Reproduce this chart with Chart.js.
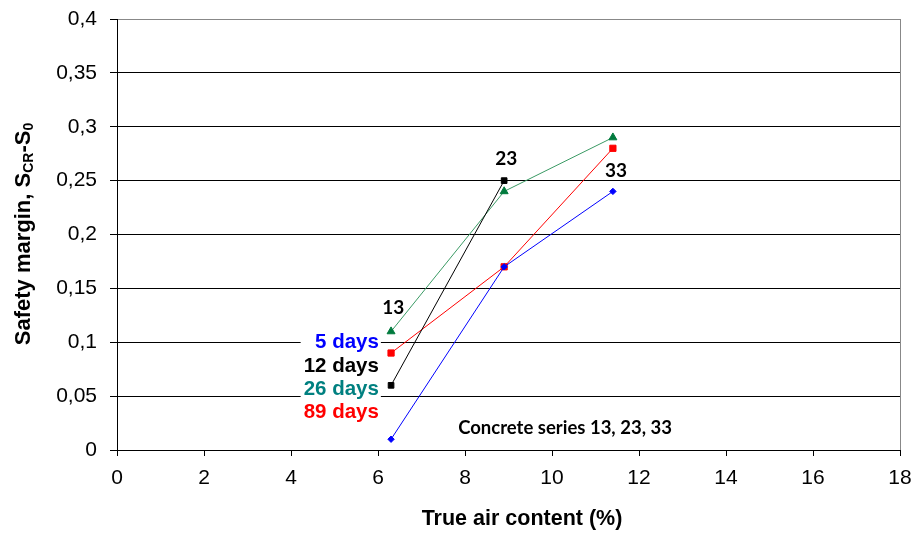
<!DOCTYPE html>
<html>
<head>
<meta charset="utf-8">
<script src="https://cdn.jsdelivr.net/npm/chart.js@4.4.0/dist/chart.umd.min.js"></script>
<style>
  html, body { margin: 0; padding: 0; background: #fff; }
  #wrap { width: 916px; height: 537px; }
</style>
</head>
<body>
<div id="wrap"><canvas id="chart" width="916" height="537"></canvas></div>
<script>
// True air content (%) of concrete series 13, 23, 33
const airContent = [6.3, 8.9, 11.4];

// Safety margin S_CR - S_0 for each age
const days5 = [0.01, 0.17, 0.24];
const days12 = [0.06, 0.25];
const days26 = [0.11, 0.24, 0.29];
const days89 = [0.09, 0.17, 0.28];

// Text legend next to the first points
const seriesNames = ["5 days", "12 days", "26 days", "89 days"];
const legendY = [0.1, 0.0775, 0.0565, 0.0345];
const legendX = 6.02;

// Series numbers written over the points
const pointLabels = ["13", "23", "33"];
const pointLabelX = [6.35, 8.95, 11.47];
const pointLabelY = [0.132, 0.27, 0.259];

const noteText = "Concrete series 13, 23, 33";

const ARIAL = "'Liberation Sans', Arial, sans-serif";
const CALIBRI = "Lato, 'Open Sans', sans-serif";

const BLUE = "#0000ff";
const BLACK = "#000000";
const TEAL = "#008080";
const RED = "#ff0000";
const GREEN_LINE = "#3a9a64";
const GREEN_POINT = "#007a3d";

function toPoints(xs, ys) {
  return ys.map((v, i) => ({ x: xs[i], y: v }));
}

// Comma as decimal separator, no trailing zeros
function fmt(v) {
  return String(parseFloat(v.toFixed(2))).replace(".", ",");
}

// Draws the free text: legend, series numbers, note and axis titles
const overlay = {
  id: "overlay",
  beforeDatasetsDraw(chart) {
    const { ctx, chartArea, scales } = chart;
    const x = scales.x, y = scales.y;
    ctx.save();

    // grey frame on the right side
    ctx.strokeStyle = "#888";
    ctx.lineWidth = 1;
    ctx.beginPath();
    ctx.moveTo(Math.round(chartArea.right) + 0.5, chartArea.top);
    ctx.lineTo(Math.round(chartArea.right) + 0.5, chartArea.bottom);
    ctx.stroke();

    // legend with white backing over the gridlines
    ctx.font = "bold 20.5px " + ARIAL;
    ctx.textAlign = "right";
    ctx.textBaseline = "middle";
    const colors = [BLUE, BLACK, TEAL, RED];
    let maxW = 0;
    seriesNames.forEach(n => { maxW = Math.max(maxW, ctx.measureText(n).width); });
    const px = x.getPixelForValue(legendX);
    const top = y.getPixelForValue(legendY[0]) - 12;
    const bottom = y.getPixelForValue(legendY[3]) + 12;
    ctx.fillStyle = "#fff";
    ctx.fillRect(px - maxW - 3, top, maxW + 5, bottom - top);
    seriesNames.forEach((name, i) => {
      ctx.fillStyle = colors[i];
      ctx.fillText(name, px, y.getPixelForValue(legendY[i]));
    });
    ctx.restore();
  },
  afterDraw(chart) {
    const { ctx, scales } = chart;
    const x = scales.x, y = scales.y;
    ctx.save();

    // series numbers
    ctx.fillStyle = BLACK;
    ctx.font = "bold 19px " + CALIBRI;
    ctx.textAlign = "center";
    ctx.textBaseline = "middle";
    pointLabels.forEach((t, i) => {
      ctx.fillText(t, x.getPixelForValue(pointLabelX[i]), y.getPixelForValue(pointLabelY[i]));
    });

    // note inside the plot
    ctx.font = "bold 18.5px " + CALIBRI;
    ctx.fillText(noteText, x.getPixelForValue(10.3), y.getPixelForValue(0.0205));

    // x axis title
    ctx.font = "bold 21.5px " + ARIAL;
    ctx.fillText("True air content (%)", 522, 519);

    // y axis title with subscripts
    const parts = [
      { t: "Safety margin, S", big: true },
      { t: "CR", big: false },
      { t: "-S", big: true },
      { t: "0", big: false }
    ];
    let total = 0;
    parts.forEach(p => {
      ctx.font = (p.big ? "bold 22px " : "bold 14px ") + ARIAL;
      p.w = ctx.measureText(p.t).width;
      total += p.w;
    });
    ctx.translate(22, 234);
    ctx.rotate(-Math.PI / 2);
    ctx.textAlign = "left";
    ctx.textBaseline = "alphabetic";
    let cx = -total / 2;
    parts.forEach(p => {
      ctx.font = (p.big ? "bold 22px " : "bold 14px ") + ARIAL;
      ctx.fillText(p.t, cx, p.big ? 8 : 11);
      cx += p.w;
    });
    ctx.restore();
  }
};

const data = {
  datasets: [
    {
      label: "5 days",
      data: toPoints(airContent, days5),
      borderColor: BLUE,
      backgroundColor: BLUE,
      borderWidth: 1,
      pointStyle: "rectRot",
      pointRadius: 3.2,
      pointBorderWidth: 1
    },
    {
      label: "12 days",
      data: toPoints(airContent, days12),
      borderColor: BLACK,
      backgroundColor: BLACK,
      borderWidth: 1,
      pointStyle: "rect",
      pointRadius: 4,
      pointBorderWidth: 1
    },
    {
      label: "26 days",
      data: toPoints(airContent, days26),
      borderColor: GREEN_LINE,
      backgroundColor: GREEN_POINT,
      pointBorderColor: GREEN_POINT,
      borderWidth: 1,
      pointStyle: "triangle",
      pointRadius: 4.6,
      pointBorderWidth: 1
    },
    {
      label: "89 days",
      data: toPoints(airContent, days89),
      borderColor: RED,
      backgroundColor: RED,
      borderWidth: 1,
      pointStyle: "rect",
      pointRadius: 4.4,
      pointBorderWidth: 1
    }
  ]
};

const config = {
  type: "line",
  data: data,
  options: {
    responsive: false,
    animation: false,
    devicePixelRatio: 1,
    layout: { padding: { top: 19, right: 16, left: 0, bottom: 0 } },
    plugins: {
      legend: { display: false },
      title: { display: false },
      tooltip: { enabled: false }
    },
    scales: {
      x: {
        type: "linear",
        min: 0,
        max: 18,
        afterFit: s => {
          s.height = 87;
          s.paddingLeft = 0;
          s.paddingRight = 0;
        },
        ticks: {
          stepSize: 2,
          autoSkip: false,
          maxRotation: 0,
          padding: 10,
          color: "#000",
          font: { family: ARIAL, size: 21 }
        },
        grid: {
          drawOnChartArea: false,
          drawTicks: true,
          tickLength: 6,
          tickColor: "#000"
        },
        border: { display: true, color: "#000", width: 1 }
      },
      y: {
        min: 0,
        max: 0.4,
        afterFit: s => {
          s.width = 117;
          s.paddingTop = 0;
          s.paddingBottom = 0;
        },
        ticks: {
          stepSize: 0.05,
          autoSkip: false,
          padding: 13,
          color: "#000",
          font: { family: ARIAL, size: 21 },
          callback: v => fmt(v)
        },
        grid: {
          color: ctx => (ctx.tick && ctx.tick.value >= 0.399 ? "#888" : "#000"),
          lineWidth: 1,
          drawTicks: true,
          tickLength: 7,
          tickColor: "#000"
        },
        border: { display: true, color: "#000", width: 1 }
      }
    }
  },
  plugins: [overlay]
};

const chart = new Chart(document.getElementById("chart"), config);
</script>
</body>
</html>
